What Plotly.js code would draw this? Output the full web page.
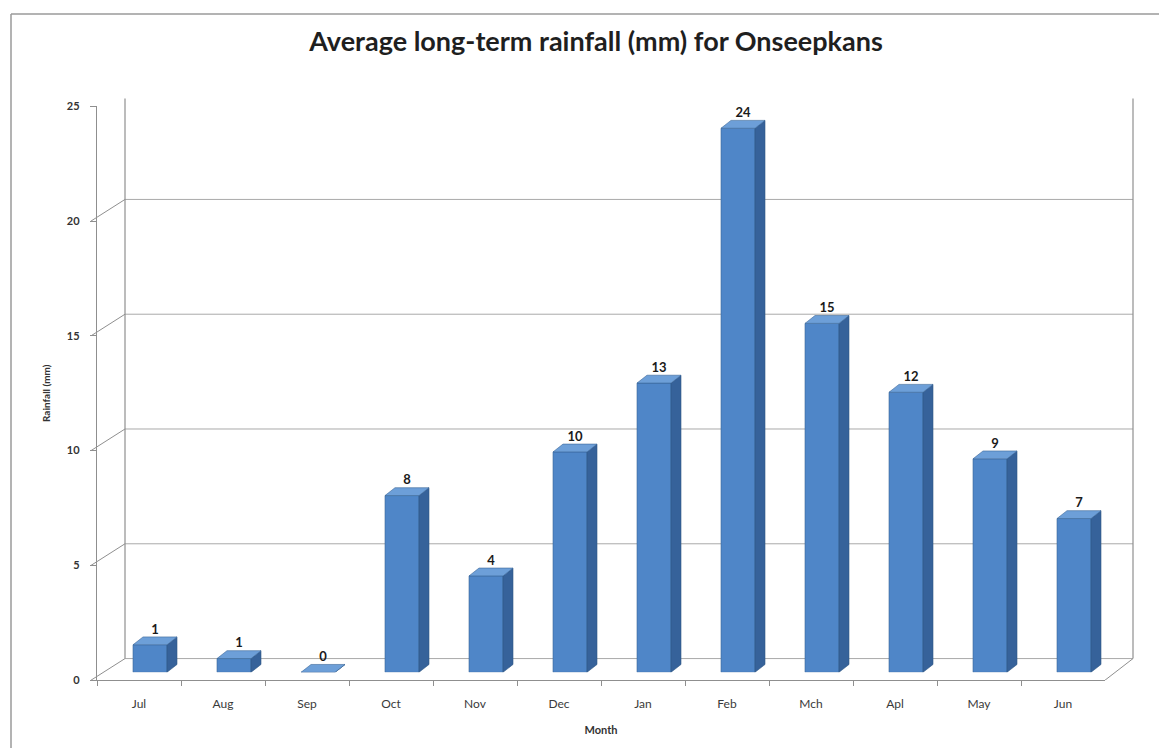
<!DOCTYPE html>
<html>
<head>
<meta charset="utf-8">
<script src="https://cdn.plot.ly/plotly-3.0.1.min.js"></script>
<style>
  html, body { margin: 0; padding: 0; background: #ffffff; }
  #chart { width: 1159px; height: 754px; }
</style>
</head>
<body>
<div id="chart"></div>
<script>
// ---------------- data ----------------
const months = ['Jul', 'Aug', 'Sep', 'Oct', 'Nov', 'Dec', 'Jan', 'Feb', 'Mch', 'Apl', 'May', 'Jun'];
const rainfall = [1.2, 0.6, 0, 7.7, 4.2, 9.6, 12.6, 23.7, 15.2, 12.2, 9.3, 6.7];
const valueLabels = ['1', '1', '0', '8', '4', '10', '13', '24', '15', '12', '9', '7'];
const yTicks = [0, 5, 10, 15, 20, 25];

const chartTitle = 'Average long-term rainfall (mm) for Onseepkans';
const xTitle = 'Month';
const yTitle = 'Rainfall (mm)';

// ---------------- geometry (pixels of the 1159x754 page) ----------------
const W = 1159, H = 754;
const px = x => x / W;
const py = y => 1 - y / H;

const FRONT = { x0: 97, x1: 1105, y0: 101, y1: 685 };   // front axes box
const BARS  = { x0: 108, x1: 1116, y0: 93,  y1: 677 };  // plane where bars stand
const BACK  = { x0: 125, x1: 1133, y0: 78,  y1: 663 };  // back wall

const unitPx = (FRONT.y1 - FRONT.y0) / 25;
const catPx = (FRONT.x1 - FRONT.x0) / months.length;
const barW = 34 / catPx;
const depthX = 10 / catPx;
const depthY = 8 / unitPx;
const backOffY = (BARS.y1 - BACK.y1) / unitPx;      // back wall relative to bar plane (y2 units)
const sideOffY = (FRONT.y1 - BACK.y1) / unitPx;     // back wall relative to front axis (y3 units)

const frontColor = '#4f86c8';
const sideColor = '#36629a';
const topColor = '#6d9fd8';
const gridColor = '#a9a9a9';
const wallLine = '#8f8f8f';

// ---------------- 3D faces built from the data ----------------
const sideX = [], sideY = [], topX = [], topY = [], labX = [], labY = [];
months.forEach((m, i) => {
  const v = rainfall[i];
  const L = i - barW / 2, R = i + barW / 2;
  sideX.push(R, R + depthX, R + depthX, R, R, null);
  sideY.push(0, depthY, v + depthY, v, 0, null);
  topX.push(L, R, R + depthX, L + depthX, L, null);
  topY.push(v, v, v + depthY, v + depthY, v, null);
  labX.push(i + depthX / 2);
  labY.push(v + depthY);
});

const traces = [
  {
    type: 'bar',
    name: 'Rainfall',
    x: months,
    y: rainfall,
    xaxis: 'x2',
    yaxis: 'y2',
    width: barW,
    marker: { color: frontColor, line: { color: '#3b6799', width: 0.6 } },
    hoverinfo: 'x+y',
    showlegend: false
  },
  {
    type: 'scatter',
    mode: 'lines',
    x: sideX,
    y: sideY,
    xaxis: 'x4',
    yaxis: 'y2',
    fill: 'toself',
    fillcolor: sideColor,
    line: { color: '#2f5785', width: 0.6 },
    hoverinfo: 'skip',
    showlegend: false
  },
  {
    type: 'scatter',
    mode: 'lines',
    x: topX,
    y: topY,
    xaxis: 'x4',
    yaxis: 'y2',
    fill: 'toself',
    fillcolor: topColor,
    line: { color: '#3b6799', width: 0.6 },
    hoverinfo: 'skip',
    showlegend: false
  },
  {
    type: 'scatter',
    mode: 'text',
    x: labX,
    y: labY,
    text: valueLabels,
    textposition: 'top center',
    textfont: { family: 'Lato, "Open Sans", sans-serif', size: 13, color: '#1a1a1a', weight: 'bold' },
    cliponaxis: false,
    xaxis: 'x4',
    yaxis: 'y2',
    hoverinfo: 'skip',
    showlegend: false
  }
];

// ---------------- decoration shapes (walls, floor, frame) ----------------
const shapes = [];
yTicks.forEach(t => {
  // back wall gridlines
  shapes.push({ type: 'line', layer: 'below', xref: 'paper', yref: 'y2',
    x0: px(BACK.x0), x1: px(BACK.x1), y0: t + backOffY, y1: t + backOffY,
    line: { color: gridColor, width: 1 } });
  // side wall lines from front axis to back wall
  shapes.push({ type: 'line', layer: 'below', xref: 'paper', yref: 'y3',
    x0: px(FRONT.x0 - 6), x1: px(BACK.x0), y0: t, y1: t + sideOffY,
    line: { color: wallLine, width: 1 } });
});
// back wall vertical edges
shapes.push({ type: 'line', layer: 'below', xref: 'paper', yref: 'y2',
  x0: px(BACK.x0), x1: px(BACK.x0), y0: backOffY, y1: 25 + backOffY, line: { color: wallLine, width: 1.2 } });
shapes.push({ type: 'line', layer: 'below', xref: 'paper', yref: 'y2',
  x0: px(BACK.x1), x1: px(BACK.x1), y0: backOffY, y1: 25 + backOffY, line: { color: wallLine, width: 1.2 } });
// floor right diagonal
shapes.push({ type: 'line', layer: 'below', xref: 'paper', yref: 'y3',
  x0: px(FRONT.x1), x1: px(BACK.x1), y0: 0, y1: sideOffY, line: { color: wallLine, width: 1 } });
// outer frame
shapes.push({ type: 'line', layer: 'above', xref: 'paper', yref: 'paper',
  x0: px(11), x1: px(11), y0: 0, y1: py(7), line: { color: '#9a9a9a', width: 1.5 } });
shapes.push({ type: 'line', layer: 'above', xref: 'paper', yref: 'paper',
  x0: px(11), x1: 1, y0: py(7), y1: py(7), line: { color: '#9a9a9a', width: 1.5 } });

const tickFontY = { family: 'Lato, "Open Sans", sans-serif', size: 11, color: '#333333', weight: 'bold' };
const tickFontX = { family: 'Lato, "Open Sans", sans-serif', size: 12, color: '#3a3a3a' };
const titleFont = { family: 'Lato, "Open Sans", sans-serif', size: 11, color: '#333333', weight: 'bold' };

const layout = {
  width: W,
  height: H,
  margin: { l: 0, r: 0, t: 0, b: 0, pad: 0 },
  paper_bgcolor: '#ffffff',
  plot_bgcolor: 'rgba(0,0,0,0)',
  showlegend: false,
  hovermode: false,
  title: {
    text: chartTitle,
    font: { family: 'Lato, "Open Sans", sans-serif', size: 27, color: '#1f1f1f', weight: 'bold' },
    xref: 'container', yref: 'container',
    x: 596 / W, xanchor: 'center',
    y: py(42), yanchor: 'middle'
  },
  // bars plane
  xaxis2: {
    domain: [px(BARS.x0), px(BARS.x1)], anchor: 'y2',
    type: 'category', categoryorder: 'array', categoryarray: months,
    range: [-0.5, months.length - 0.5], visible: false, fixedrange: true
  },
  yaxis2: {
    domain: [py(BARS.y1), py(BARS.y0)], anchor: 'x2',
    range: [0, 25], visible: false, fixedrange: true
  },
  xaxis4: {
    overlaying: 'x2', anchor: 'y2', type: 'linear',
    range: [-0.5, months.length - 0.5], visible: false, fixedrange: true
  },
  // front axes with labels
  xaxis3: {
    domain: [px(FRONT.x0), px(FRONT.x1)], anchor: 'y3',
    type: 'category', categoryorder: 'array', categoryarray: months,
    range: [-0.5, months.length - 0.5],
    showgrid: false, zeroline: false,
    showline: true, linecolor: wallLine, linewidth: 1.2,
    ticks: 'outside', tickson: 'boundaries', ticklen: 5, tickcolor: wallLine,
    tickfont: tickFontX, ticklabelstandoff: 12,
    automargin: true,
    title: { text: xTitle, font: titleFont, standoff: 16 },
    fixedrange: true
  },
  yaxis3: {
    domain: [py(FRONT.y1), py(FRONT.y0)], anchor: 'x3',
    range: [0, 25], tickvals: yTicks,
    showgrid: false, zeroline: false,
    showline: true, linecolor: wallLine, linewidth: 1.2,
    ticks: 'outside', ticklen: 6, tickcolor: wallLine,
    tickfont: tickFontY, ticklabelstandoff: 8,
    automargin: true,
    title: { text: yTitle, font: { family: titleFont.family, size: 10, color: '#333333', weight: 'bold' }, standoff: 14 },
    fixedrange: true
  },
  shapes: shapes
};

Plotly.newPlot('chart', traces, layout, { staticPlot: true, displayModeBar: false });
</script>
</body>
</html>
